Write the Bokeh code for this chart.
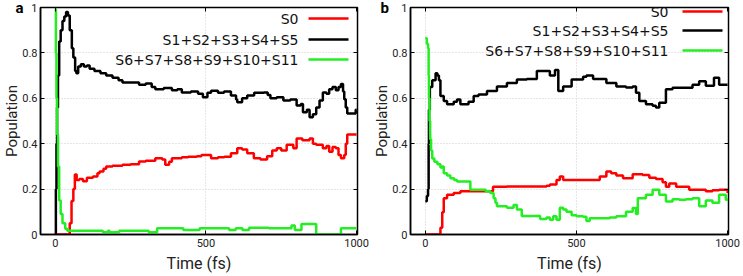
from bokeh.plotting import figure
from bokeh.models import Range1d, FixedTicker, LinearAxis, Label, Arrow, CustomJSTickFormatter
from bokeh.layouts import row
from bokeh.embed import file_html
from bokeh.resources import INLINE

series_names = ["S0", "S1+S2+S3+S4+S5", "S6+S7+S8+S9+S10+S11"]
series_colors = ["#ff0000", "#000000", "#22ee22"]
x_ticks = [0, 500, 1000]
y_ticks = [0, 0.2, 0.4, 0.6, 0.8, 1]
y_tick_labels = ["0", "0.2", "0.4", "0.6", "0.8", "1"]
x_axis_title = "Time (fs)"
y_axis_title = "Population"

# ---------------- panel a ----------------
a_s0_t = [0, 43, 48, 54, 60, 65, 71, 80, 92, 105, 125, 140, 147, 160, 169, 190, 223, 250, 278, 300,
          332, 355, 365, 378, 387, 420, 441, 470, 485, 517, 540, 561, 583, 604, 620, 637, 659, 681,
          703, 720, 735, 750, 768, 790, 801, 820, 844, 855, 866, 888, 900, 909, 920, 931, 940, 948,
          959, 964, 969, 1000]
a_s0_v = [0.0, 0.0, 0.05, 0.148, 0.20, 0.264, 0.24, 0.245, 0.235, 0.25, 0.256, 0.27, 0.278, 0.29,
          0.30, 0.303, 0.307, 0.31, 0.322, 0.325, 0.336, 0.33, 0.307, 0.32, 0.336, 0.34, 0.343, 0.345,
          0.35, 0.336, 0.34, 0.343, 0.358, 0.38, 0.375, 0.358, 0.336, 0.33, 0.345, 0.37, 0.38, 0.37,
          0.395, 0.38, 0.423, 0.415, 0.423, 0.40, 0.395, 0.38, 0.39, 0.365, 0.385, 0.38, 0.35, 0.336,
          0.35, 0.40, 0.44, 0.44]

a_s1_t = [0, 2, 4, 6, 9, 13, 18, 24, 30, 36, 42, 48, 55, 60, 66, 70, 76, 85, 95, 105, 114, 130, 150,
          169, 190, 210, 223, 250, 278, 300, 320, 332, 360, 387, 405, 420, 450, 474, 490, 505, 517,
          540, 560, 583, 600, 604, 620, 637, 660, 692, 705, 714, 735, 757, 780, 801, 815, 822, 835,
          844, 855, 866, 877, 888, 900, 909, 920, 931, 940, 948, 955, 959, 964, 969, 985, 997, 1000]
a_s1_v = [0.0, 0.2, 0.4, 0.56, 0.70, 0.85, 0.90, 0.94, 0.96, 0.98, 0.965, 0.90, 0.82, 0.78, 0.72,
          0.71, 0.74, 0.75, 0.74, 0.745, 0.73, 0.72, 0.71, 0.70, 0.69, 0.68, 0.67, 0.67, 0.66, 0.665,
          0.65, 0.64, 0.645, 0.635, 0.64, 0.626, 0.63, 0.62, 0.605, 0.625, 0.633, 0.625, 0.63, 0.612,
          0.595, 0.583, 0.60, 0.612, 0.625, 0.626, 0.615, 0.60, 0.605, 0.59, 0.595, 0.568, 0.575,
          0.539, 0.55, 0.517, 0.53, 0.56, 0.59, 0.626, 0.62, 0.64, 0.65, 0.635, 0.65, 0.663, 0.63,
          0.596, 0.56, 0.533, 0.533, 0.55, 0.55]

a_s6_t = [0, 2, 4, 6, 9, 13, 18, 24, 33, 40, 158, 175, 180, 212, 310, 338, 425, 479, 577, 599, 621,
          643, 708, 784, 795, 817, 866, 948, 1000]
a_s6_v = [1.0, 0.8, 0.6, 0.44, 0.30, 0.15, 0.09, 0.05, 0.025, 0.017, 0.01, 0.017, 0.01, 0.017, 0.01,
          0.027, 0.02, 0.027, 0.02, 0.027, 0.02, 0.03, 0.027, 0.04, 0.02, 0.046, 0.0, 0.027, 0.027]

# ---------------- panel b ----------------
b_s0_t = [0, 45, 50, 56, 61, 72, 94, 116, 215, 224, 270, 401, 412, 434, 445, 456, 555, 577, 599, 615,
          632, 654, 686, 719, 741, 763, 785, 796, 807, 830, 851, 873, 928, 950, 972, 1000]
b_s0_v = [0.0, 0.0, 0.03, 0.098, 0.16, 0.175, 0.183, 0.19, 0.19, 0.21, 0.212, 0.215, 0.22, 0.24,
          0.255, 0.24, 0.24, 0.255, 0.277, 0.27, 0.26, 0.248, 0.265, 0.262, 0.25, 0.245, 0.23, 0.21,
          0.225, 0.21, 0.21, 0.197, 0.19, 0.195, 0.197, 0.183]

b_s1_t = [0, 5, 9, 11, 12, 15, 23, 34, 40, 45, 50, 61, 72, 94, 105, 116, 143, 160, 176, 204, 237, 270,
          303, 336, 369, 401, 412, 429, 440, 456, 484, 522, 533, 555, 599, 632, 664, 686, 697, 708,
          730, 752, 763, 774, 796, 818, 851, 884, 906, 928, 955, 972, 1000]
b_s1_v = [0.146, 0.17, 0.2, 0.40, 0.55, 0.65, 0.68, 0.71, 0.70, 0.68, 0.61, 0.588, 0.574, 0.585,
          0.595, 0.574, 0.585, 0.61, 0.617, 0.632, 0.652, 0.667, 0.683, 0.685, 0.72, 0.72, 0.70,
          0.725, 0.632, 0.652, 0.683, 0.695, 0.70, 0.685, 0.667, 0.652, 0.648, 0.652, 0.624, 0.588,
          0.574, 0.567, 0.56, 0.58, 0.64, 0.646, 0.646, 0.66, 0.675, 0.655, 0.69, 0.66, 0.66]

b_s6_t = [0, 5, 9, 11, 12, 14, 16, 19, 23, 30, 40, 50, 56, 61, 72, 83, 95, 105, 149, 182, 200, 215,
          226, 232, 237, 270, 292, 303, 319, 358, 380, 401, 412, 423, 434, 445, 456, 467, 484, 500,
          522, 533, 544, 610, 632, 664, 686, 697, 703, 730, 752, 774, 796, 818, 840, 862, 884, 906,
          928, 950, 972, 994, 1000]
b_s6_v = [0.864, 0.84, 0.82, 0.70, 0.6, 0.5, 0.42, 0.37, 0.335, 0.32, 0.31, 0.295, 0.30, 0.27, 0.26,
          0.248, 0.24, 0.233, 0.197, 0.197, 0.19, 0.183, 0.16, 0.14, 0.125, 0.118, 0.13, 0.11, 0.082,
          0.082, 0.068, 0.075, 0.065, 0.08, 0.065, 0.118, 0.11, 0.10, 0.085, 0.08, 0.078, 0.06, 0.072,
          0.075, 0.08, 0.10, 0.117, 0.09, 0.16, 0.175, 0.197, 0.175, 0.145, 0.155, 0.153, 0.155, 0.16,
          0.125, 0.15, 0.14, 0.175, 0.153, 0.16]

FONT = "Roboto"
LEGEND_FONT = "DejaVu Sans"


def make_panel(letter, series, width, bl, br, bt, bb, legend_cfg, letter_offset):
    p = figure(width=width, height=276, output_backend="svg", toolbar_location=None,
               x_range=Range1d(-49, 1003), y_range=Range1d(0, 1),
               min_border_left=bl, min_border_right=br, min_border_top=bt, min_border_bottom=bb)
    p.background_fill_color = "white"
    p.border_fill_color = "white"
    p.outline_line_color = "black"
    p.outline_line_width = 1.5

    # panel letter as a (zero-height) title drawn beside the frame's top-left corner
    p.title.text = letter
    p.title.align = "left"
    p.title.vertical_align = "bottom"
    p.title.offset = letter_offset
    p.title.standoff = -18
    p.title.text_font = FONT
    p.title.text_font_size = "15px"
    p.title.text_font_style = "bold"
    p.title.text_color = "black"

    for (t, v), col in zip(series, series_colors):
        p.step(t, v, mode="after", line_color=col, line_width=2.5)

    p.xaxis.ticker = FixedTicker(ticks=x_ticks)
    p.yaxis.ticker = FixedTicker(ticks=y_ticks)
    p.yaxis.major_label_overrides = {k: s for k, s in zip(y_ticks, y_tick_labels)}
    for ax in (p.xaxis[0], p.yaxis[0]):
        ax.major_tick_in = 4
        ax.major_tick_out = 0
        ax.minor_tick_line_color = None
        ax.axis_line_color = "black"
        ax.axis_line_width = 1.5
        ax.major_tick_line_color = "black"
        ax.major_label_text_font = FONT
        ax.major_label_text_font_size = "11px"
        ax.major_label_text_color = "#222222"
        ax.axis_label_text_font = FONT
        ax.axis_label_text_font_style = "normal"
        ax.axis_label_text_color = "#222222"
    p.xaxis.axis_label = x_axis_title
    p.yaxis.axis_label = y_axis_title
    p.xaxis.axis_label_text_font_size = "16px"
    p.yaxis.axis_label_text_font_size = "15px"
    p.xaxis.major_label_standoff = 4
    p.yaxis.major_label_standoff = 3
    p.xaxis.axis_label_standoff = 4
    p.yaxis.axis_label_standoff = -2

    blank = CustomJSTickFormatter(code="return ''")
    right = LinearAxis(ticker=FixedTicker(ticks=y_ticks), formatter=blank,
                       major_tick_in=4, major_tick_out=0, minor_tick_line_color=None,
                       major_label_standoff=0, axis_line_color="black")
    top = LinearAxis(ticker=FixedTicker(ticks=x_ticks), formatter=blank,
                     major_tick_in=4, major_tick_out=0, minor_tick_line_color=None,
                     major_label_standoff=0, axis_line_color="black")
    p.add_layout(right, "right")
    p.add_layout(top, "above")

    p.xgrid.grid_line_color = "#cccccc"
    p.xgrid.grid_line_dash = "1 2"
    p.ygrid.grid_line_color = "#cccccc"
    p.ygrid.grid_line_dash = "1 2"

    tx, lx0, lx1, ys = legend_cfg
    for name, col, yy in zip(series_names, series_colors, ys):
        p.add_layout(Label(x=tx, y=yy, x_units="screen", y_units="screen", text=name,
                           text_align="right", text_baseline="middle", text_font=LEGEND_FONT,
                           text_font_size="14px", text_color="#111111"))
        p.add_layout(Arrow(x_start=lx0, y_start=yy, x_end=lx1, y_end=yy,
                           start_units="screen", end_units="screen", start=None, end=None,
                           line_color=col, line_width=2.5))
    return p


pa = make_panel("a", [(a_s0_t, a_s0_v), (a_s1_t, a_s1_v), (a_s6_t, a_s6_v)],
                370, 35, 13, 5, 42, (258, 268, 308, [216, 195, 175]), -25)
pb = make_panel("b", [(b_s0_t, b_s0_v), (b_s1_t, b_s1_v), (b_s6_t, b_s6_v)],
                373, 38, 15, 7, 39, (258, 272, 312, [223, 204, 184]), -30)

layout = row(pa, pb)
open("out.html", "w").write(file_html(layout, INLINE))
